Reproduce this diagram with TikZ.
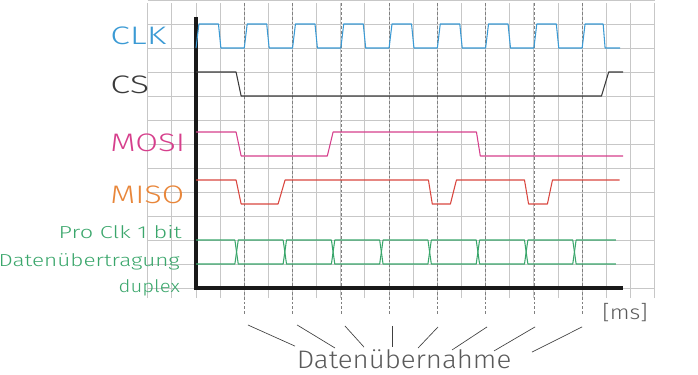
\documentclass[tikz,border=0pt]{standalone}
\usepackage{fontspec}
\setmainfont{Fira Sans Light}
\definecolor{clkblue}{HTML}{3B9AD4}
\definecolor{csgray}{HTML}{3A3A3A}
\definecolor{mosipink}{HTML}{D63F8C}
\definecolor{misored}{HTML}{D9463F}
\definecolor{misoorange}{HTML}{E8863A}
\definecolor{datagreen}{HTML}{3AA66B}
\definecolor{notegray}{HTML}{5A5A5A}
\begin{document}
\begin{tikzpicture}[x=18.1pt,y=18pt,
  gridline/.style={draw=black!22, line width=0.7pt},
  axisline/.style={draw=black!90, line width=3pt},
  sig/.style={line width=0.8pt, line join=round},
  guide/.style={draw=black!50, line width=0.45pt, dash pattern=on 2pt off 1.5pt},
  fan/.style={draw=black!75, line width=0.5pt},
  biglbl/.style={font=\fontsize{19}{19}\selectfont, inner sep=0pt},
  smalllbl/.style={font=\fontsize{13}{13}\selectfont, inner sep=0pt, text=datagreen}]
\useasboundingbox (-8.122,-3.583) rectangle (20.80,12);

% grid
\foreach \i in {-2,...,19} \draw[gridline] (\i,-0.42) -- (\i,11.88);
\foreach \j in {0,...,12} \draw[gridline] (-2,\j) -- (19,\j);

% guide (dashed) lines
\foreach \k in {1,...,8} {
  \coordinate (gt\k) at (2*\k,11.88);
  \coordinate (gb\k) at (2*\k,-1.12);
  \draw[guide] (gt\k) -- (gb\k);
}

% axes
\coordinate (o) at (0,0);
\coordinate (ytop) at (0,11.3);
\coordinate (xend) at (17.7,0);
\draw[axisline] (ytop) -- (o) -- (xend);

% CLK
\draw[sig, clkblue] (0,10)
  \foreach \k in {0,...,7} { -- (2*\k+0.12,11) -- (2*\k+0.93,11) -- (2*\k+1.03,10) -- (2*\k+2,10) }
  -- (16.12,11) -- (16.87,11) -- (16.95,10) -- (17.57,10);

% CS
\draw[sig, csgray] (0,9) -- (1.66,9) -- (1.87,8) -- (16.8,8) -- (17.1,9) -- (17.7,9);

% MOSI
\draw[sig, mosipink] (0,6.5) -- (1.66,6.5) -- (1.87,5.5) -- (5.44,5.5) -- (5.68,6.5)
  -- (11.62,6.5) -- (11.78,5.5) -- (17.7,5.5);

% MISO
\draw[sig, misored] (0,4.5) -- (1.66,4.5) -- (1.87,3.5) -- (3.40,3.5) -- (3.69,4.5)
  -- (9.63,4.5) -- (9.79,3.5) -- (10.54,3.5) -- (10.79,4.5) -- (13.61,4.5)
  -- (13.78,3.5) -- (14.56,3.5) -- (14.77,4.5) -- (17.55,4.5);

% data (duplex)
\draw[sig, datagreen] (0,2)
  \foreach \k in {1,...,8} { -- (2*\k-0.39,{ifthenelse(isodd(\k),2,1)}) -- (2*\k-0.25,{ifthenelse(isodd(\k),1,2)}) }
  -- (17.4,2);
\draw[sig, datagreen] (0,1)
  \foreach \k in {1,...,8} { -- (2*\k-0.39,{ifthenelse(isodd(\k),1,2)}) -- (2*\k-0.25,{ifthenelse(isodd(\k),2,1)}) }
  -- (17.4,1);

% labels
\node[biglbl, text=clkblue, anchor=west] (lclk) at (-3.56,10.5) {\scalebox{1.4}[1]{CLK}};
\node[biglbl, text=csgray, anchor=west] (lcs) at (-3.56,8.46) {\scalebox{1.42}[1]{CS}};
\node[biglbl, text=mosipink, anchor=west] (lmosi) at (-3.56,6.04) {\scalebox{1.3}[1]{MOSI}};
\node[biglbl, text=misoorange, anchor=west] (lmiso) at (-3.56,3.88) {\scalebox{1.28}[1]{MISO}};
\node[smalllbl, anchor=east] (lpro) at (-0.58,2.33) {\scalebox{1.36}[1]{Pro Clk 1 bit}};
\node[smalllbl, anchor=east] (ldat) at (-0.66,1.08) {\scalebox{1.3}[1]{Datenübertragung}};
\node[smalllbl, anchor=east] (ldup) at (-0.66,0.0) {\scalebox{1.17}[1]{duplex}};
\node[biglbl, text=notegray, anchor=west, font=\fontsize{15}{15}\selectfont] (lms) at (16.83,-1.04) {\scalebox{1.16}[1]{[ms]}};
\node[biglbl, text=notegray, anchor=base] (lnote) at (8.62,-3.34) {\scalebox{1.09}[1]{Datenübernahme}};

% fan lines toward the note
\coordinate (f1a) at (2.15,-1.54);  \coordinate (f1b) at (4.10,-2.42);
\coordinate (f2a) at (4.19,-1.54);  \coordinate (f2b) at (5.76,-2.50);
\coordinate (f3a) at (6.17,-1.58);  \coordinate (f3b) at (6.96,-2.46);
\coordinate (f4a) at (8.12,-1.58);  \coordinate (f4b) at (8.12,-2.46);
\coordinate (f5a) at (10.03,-1.62); \coordinate (f5b) at (9.20,-2.50);
\coordinate (f6a) at (12.06,-1.62); \coordinate (f6b) at (10.61,-2.58);
\coordinate (f7a) at (14.05,-1.62); \coordinate (f7b) at (12.35,-2.62);
\coordinate (f8a) at (16.00,-1.62); \coordinate (f8b) at (13.92,-2.67);
\foreach \k in {1,...,8} \draw[fan] (f\k a) -- (f\k b);
\end{tikzpicture}
\end{document}
